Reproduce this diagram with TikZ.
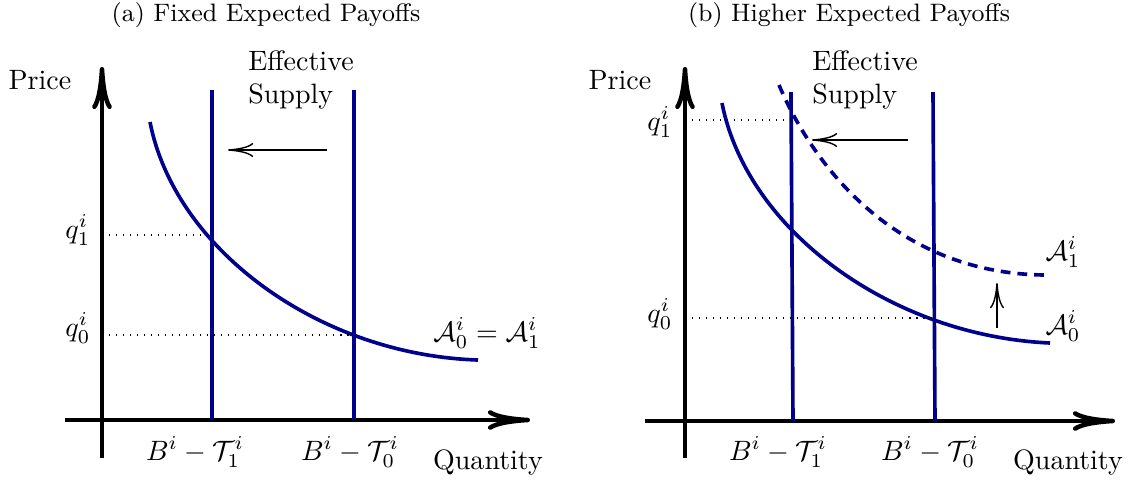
\documentclass[tikz,border=0pt]{standalone}
\usepackage{amsmath,amssymb}
\usetikzlibrary{arrows.meta}
\definecolor{curveblue}{RGB}{0,0,140}

\begin{document}
\begin{tikzpicture}[x=0.357pt,y=-0.357pt,
    axis/.style={line width=1.6pt,-{To[length=15pt,width=7pt]}},
    supply/.style={curveblue,line width=1.3pt},
    demand/.style={curveblue,line width=1.3pt},
    shiftarrow/.style={line width=0.5pt,-{To[length=9pt,width=5pt]}},
    guide/.style={dotted,line width=0.5pt},
    tick/.style={inner sep=0.5pt}]
  \useasboundingbox (0,0) rectangle (1132,480);

  % (a) fixed expected payoffs
  \node (titleA) at (266,15) {\small (a) Fixed Expected Payoffs};
  \draw[axis] (102,458) -- (102,67);
  \draw[axis] (65,420) -- (530,420);
  \node (priceA) at (40,80) {Price};
  \node[tick] (qtyA) at (488,462) {Quantity};
  \node[align=left] (effA) at (301,80) {Effective\\Supply};
  \draw[supply] (212,90) -- (212,420);
  \draw[supply] (354,90) -- (354,420);
  \draw[demand] (150,122) .. controls (175,250) and (320,355) .. (478,360);
  \draw[guide] (102,235) -- (212,235);
  \draw[guide] (102,335) -- (354,335);
  \node (q1A) at (78,230) {$q_1^i$};
  \node (q0A) at (78,328) {$q_0^i$};
  \node[tick] (b1A) at (195,452) {$B^i-\mathcal{T}_1^i$};
  \node[tick] (b0A) at (350,452) {$B^i-\mathcal{T}_0^i$};
  \node (dA) at (487,333) {$\mathcal{A}_0^i=\mathcal{A}_1^i$};
  \coordinate (fromA) at (327,150);
  \coordinate (toA) at (228,150);
  \draw[shiftarrow] (fromA) -- (toA);

  % (b) higher expected payoffs
  \node (titleB) at (849,15) {\small (b) Higher Expected Payoffs};
  \draw[axis] (685,458) -- (685,67);
  \draw[axis] (645,421) -- (1115,421);
  \node (priceB) at (620,80) {Price};
  \node[tick] (qtyB) at (1068,462) {Quantity};
  \node[align=left] (effB) at (865,80) {Effective\\Supply};
  \draw[supply] (791,92) -- (793,421);
  \draw[supply] (933,92) -- (935,421);
  \draw[demand] (722,103) .. controls (747,231) and (892,336) .. (1050,343);
  \draw[demand,dash pattern=on 3.5pt off 2.5pt] (779,85) .. controls (815,170) and (900,276) .. (1050,275);
  \draw[guide] (685,120) -- (791,120);
  \draw[guide] (685,318) -- (935,318);
  \node (q1B) at (660,122) {$q_1^i$};
  \node (q0B) at (660,314) {$q_0^i$};
  \node[tick] (b1B) at (778,452) {$B^i-\mathcal{T}_1^i$};
  \node[tick] (b0B) at (930,452) {$B^i-\mathcal{T}_0^i$};
  \node (d1B) at (1063,252) {$\mathcal{A}_1^i$};
  \node (d0B) at (1063,326) {$\mathcal{A}_0^i$};
  \coordinate (fromB) at (908,140);
  \coordinate (toB) at (812,140);
  \draw[shiftarrow] (fromB) -- (toB);
  \coordinate (lowB) at (997,328);
  \coordinate (highB) at (997,283);
  \draw[shiftarrow] (lowB) -- (highB);
\end{tikzpicture}
\end{document}
